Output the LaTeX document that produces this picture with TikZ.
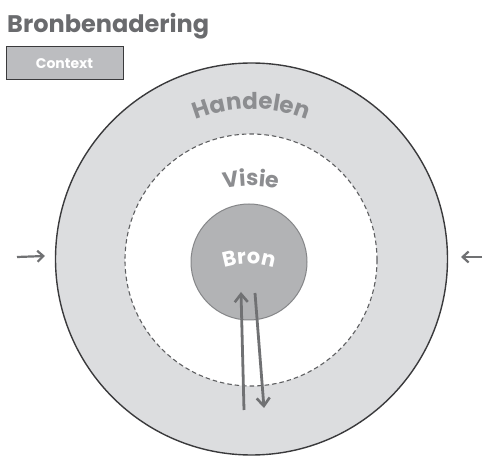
\documentclass[tikz,border=0pt]{standalone}
\usepackage{fontspec}
\setmainfont{Poppins}
\usetikzlibrary{arrows.meta,decorations.text}
\definecolor{titlegray}{HTML}{6A6B6E}
\definecolor{ringfill}{HTML}{DCDDDF}
\definecolor{ringtext}{HTML}{8C8D90}
\definecolor{bronfill}{HTML}{B2B3B5}
\definecolor{bronedge}{HTML}{858688}
\definecolor{outeredge}{HTML}{3A3A3C}
\definecolor{dashedge}{HTML}{5E5F61}
\definecolor{ctxfill}{HTML}{BCBDC0}
\definecolor{arrowgray}{HTML}{707173}
\tikzset{
  flowarrow/.style={draw=arrowgray, line width=2.8pt, -{Straight Barb[length=8pt,width=13pt,line width=2.6pt]}},
  sidearrow/.style={draw=arrowgray, line width=2.2pt, -{Straight Barb[length=6pt,width=11pt,line width=2.2pt]}},
}
\begin{document}
\begin{tikzpicture}[x=1pt,y=1pt]
\useasboundingbox (0,0) rectangle (483,456);
% outer ring
\node[circle, draw=outeredge, line width=1.4pt, fill=ringfill, minimum size=392pt, inner sep=0pt] (outer) at (251.5,197) {};
% dashed inner circle
\node[circle, draw=dashedge, line width=1.1pt, dash pattern=on 4.5pt off 3pt, fill=white, minimum size=252pt, inner sep=0pt] (visie) at (251,196) {};
% bron
\node[circle, draw=bronedge, line width=1pt, fill=bronfill, minimum size=116pt, inner sep=0pt] (bron) at (249,194) {};
% curved labels
\path[decorate, decoration={text along path, text align=center,
  text={|\fontsize{23}{23}\bfseries\color{ringtext}|Handelen}}]
  (251.5,197) ++(122:150) arc[start angle=122, end angle=58, radius=150];
\path[decorate, decoration={text along path, text align=center,
  text={|\fontsize{22}{22}\bfseries\color{ringtext}|Visie}}]
  (251,150) ++(110:120) arc[start angle=110, end angle=70, radius=120];
\path[decorate, decoration={text along path, text align=center,
  text={|\fontsize{21}{21}\bfseries\color{white}|Bron}}]
  (249,112) ++(120:80) arc[start angle=120, end angle=60, radius=80];
% title and context box
\node[anchor=base west, inner sep=0pt, text=titlegray, font=\fontsize{24}{24}\selectfont\bfseries] (title) at (7,423) {Bronbenadering};
\node[draw=outeredge, line width=1pt, fill=ctxfill, minimum width=117pt, minimum height=33pt, inner sep=0pt, text=white, font=\fontsize{14}{14}\selectfont\bfseries] (ctx) at (64.5,392.5) {Context};
% flow arrows
\coordinate (upstart) at (244,46);
\coordinate (upend) at (241,164);
\coordinate (downstart) at (255,163);
\coordinate (downend) at (264,48);
\draw[flowarrow] (upstart) -- (upend);
\draw[flowarrow] (downstart) -- (downend);
% side arrows
\coordinate (lstart) at (17,199);
\coordinate (lend) at (45,200);
\coordinate (rstart) at (482,199);
\coordinate (rend) at (461,199);
\draw[sidearrow] (lstart) -- (lend);
\draw[sidearrow] (rstart) -- (rend);
\end{tikzpicture}
\end{document}
